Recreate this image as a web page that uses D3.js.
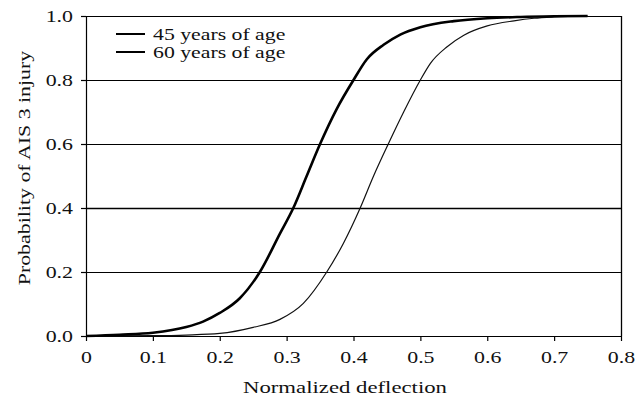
<!DOCTYPE html>
<html>
<head>
<meta charset="utf-8">
<script src="https://cdn.jsdelivr.net/npm/d3@7"></script>
<style>
  body { margin: 0; background: #fff; }
  text { font-family: "Liberation Serif", "Times New Roman", serif; fill: #111; }
</style>
</head>
<body>
<div id="chart"></div>
<script>
// data
var seriesNames = ["45 years of age", "60 years of age"];
var deflection45 = [0, 0.05, 0.1, 0.15, 0.175, 0.2, 0.23, 0.26, 0.29, 0.31, 0.33, 0.35, 0.375, 0.4, 0.42, 0.445, 0.47, 0.5, 0.55, 0.6, 0.65, 0.7, 0.75];
var prob45 = [0, 0.004, 0.01, 0.028, 0.045, 0.072, 0.118, 0.2, 0.32, 0.4, 0.5, 0.6, 0.71, 0.8, 0.865, 0.91, 0.942, 0.965, 0.984, 0.993, 0.997, 0.999, 1.0];
var deflection60 = [0, 0.1, 0.15, 0.2, 0.25, 0.29, 0.325, 0.36, 0.385, 0.41, 0.43, 0.452, 0.475, 0.5, 0.515, 0.54, 0.565, 0.6, 0.64, 0.67, 0.7, 0.75];
var prob60 = [0, 0.001, 0.003, 0.008, 0.027, 0.052, 0.102, 0.2, 0.29, 0.4, 0.5, 0.6, 0.7, 0.8, 0.852, 0.904, 0.94, 0.969, 0.985, 0.993, 0.997, 1.0];
var xTicks = [0, 0.1, 0.2, 0.3, 0.4, 0.5, 0.6, 0.7, 0.8];
var yTicks = [0, 0.2, 0.4, 0.6, 0.8, 1.0];

// svg params
var svgWidth = 639;
var svgHeight = 403;
var margin = { top: 16, right: 18, bottom: 67, left: 86 };
var chartWidth = svgWidth - margin.left - margin.right;
var chartHeight = svgHeight - margin.top - margin.bottom;
var fontSize = 17.5;
var stretch = 1.25; // the reference type is set wide

var svg = d3.select("#chart").append("svg")
  .attr("width", svgWidth)
  .attr("height", svgHeight);

var chartGroup = svg.append("g")
  .attr("transform", `translate(${margin.left}, ${margin.top})`);

var xScale = d3.scaleLinear().domain([0, 0.8]).range([0, chartWidth]);
var yScale = d3.scaleLinear().domain([0, 1]).range([chartHeight, 0]);

// widen a text element horizontally
function widen(sel, k) {
  sel.each(function() {
    var len = this.getComputedTextLength();
    this.setAttribute("textLength", len * (k || stretch));
    this.setAttribute("lengthAdjust", "spacingAndGlyphs");
  });
}

// horizontal gridlines
chartGroup.append("g").selectAll("line")
  .data(yTicks.filter(d => d > 0))
  .enter()
  .append("line")
  .attr("x1", 0)
  .attr("x2", chartWidth)
  .attr("y1", d => Math.round(yScale(d)) + 0.5)
  .attr("y2", d => Math.round(yScale(d)) + 0.5)
  .attr("stroke", "#000")
  .attr("stroke-width", d => d === 0.4 ? 1.6 : 1);

// right border
chartGroup.append("line")
  .attr("x1", chartWidth + 0.5).attr("x2", chartWidth + 0.5)
  .attr("y1", 0).attr("y2", chartHeight)
  .attr("stroke", "#000")
  .attr("stroke-width", 1.3);

// axes
var xAxis = d3.axisBottom(xScale)
  .tickValues(xTicks)
  .tickSizeInner(5)
  .tickSizeOuter(0)
  .tickPadding(10)
  .tickFormat(d => d === 0 ? "0" : d.toFixed(1));
var yAxis = d3.axisLeft(yScale)
  .tickValues(yTicks)
  .tickSizeInner(5)
  .tickSizeOuter(0)
  .tickPadding(8)
  .tickFormat(d3.format(".1f"));

var xAxisGroup = chartGroup.append("g")
  .attr("transform", `translate(0, ${chartHeight})`)
  .call(xAxis);
var yAxisGroup = chartGroup.append("g")
  .call(yAxis);

[xAxisGroup, yAxisGroup].forEach(function(g) {
  g.selectAll("path, line").attr("stroke", "#000").attr("stroke-width", 1.2);
  g.selectAll("text")
    .attr("font-size", fontSize)
    .attr("fill", "#111")
    .call(widen);
});

// curves
var line = d3.line()
  .x(d => xScale(d[0]))
  .y(d => yScale(d[1]))
  .curve(d3.curveMonotoneX);

var data45 = deflection45.map((d, i) => [d, prob45[i]]);
var data60 = deflection60.map((d, i) => [d, prob60[i]]);

chartGroup.append("path")
  .datum(data60)
  .attr("d", line)
  .attr("fill", "none")
  .attr("stroke", "#111")
  .attr("stroke-width", 1.2);

chartGroup.append("path")
  .datum(data45)
  .attr("d", line)
  .attr("fill", "none")
  .attr("stroke", "#000")
  .attr("stroke-width", 2.6);

// legend
var legend = svg.append("g");
seriesNames.forEach(function(name, i) {
  var y = 34 + i * 18;
  legend.append("line")
    .attr("x1", 116).attr("x2", 145)
    .attr("y1", y).attr("y2", y)
    .attr("stroke", "#000")
    .attr("stroke-width", 2);
  legend.append("text")
    .attr("x", 153)
    .attr("y", y + 6)
    .attr("font-size", 16)
    .text(name)
    .call(widen, 1.36);
});

// axis titles
svg.append("text")
  .attr("x", 345)
  .attr("y", 393)
  .attr("text-anchor", "middle")
  .attr("font-size", fontSize)
  .text("Normalized deflection")
  .call(widen, 1.3);

svg.append("text")
  .attr("transform", "translate(30, 168) rotate(-90)")
  .attr("text-anchor", "middle")
  .attr("font-size", fontSize)
  .text("Probability of AIS 3 injury")
  .call(widen);
</script>
</body>
</html>
